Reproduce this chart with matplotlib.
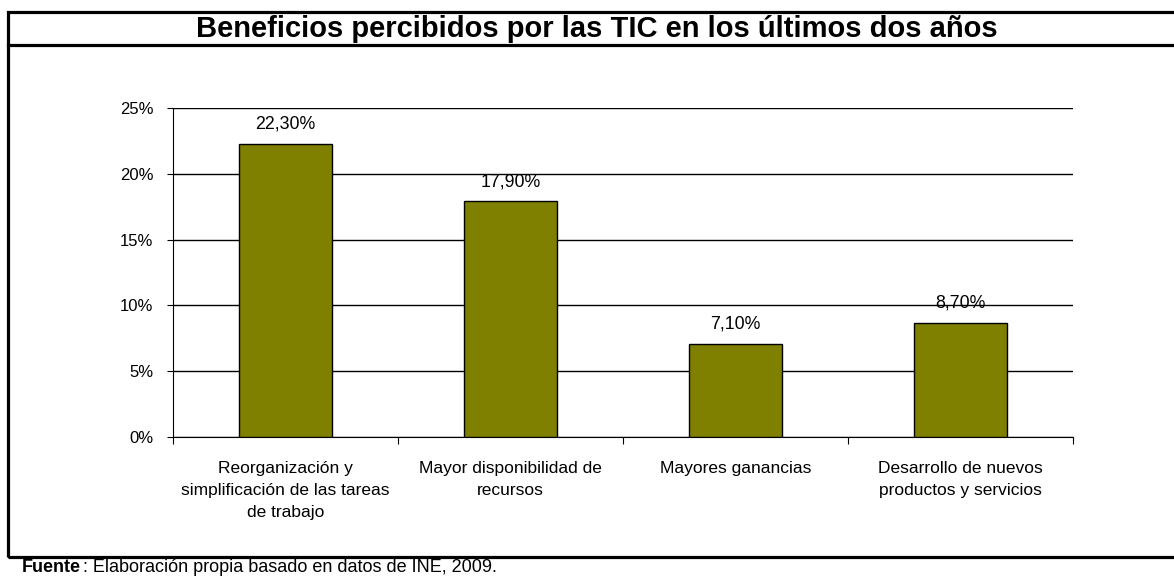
import numpy as np
import matplotlib.pyplot as plt
from matplotlib.patches import Rectangle
from matplotlib.lines import Line2D

plt.rcParams['font.family'] = ['Liberation Sans', 'DejaVu Sans']

# Datos
categorias = ['Reorganización y\nsimplificación de las tareas\nde trabajo',
              'Mayor disponibilidad de\nrecursos',
              'Mayores ganancias',
              'Desarrollo de nuevos\nproductos y servicios']
valores = [22.3, 17.9, 7.1, 8.7]
etiquetas = ['22,30%', '17,90%', '7,10%', '8,70%']
yticks = [0, 5, 10, 15, 20, 25]

W, H = 1174, 576
fig = plt.figure(figsize=(W / 100, H / 100), dpi=100)

# coordenadas en píxeles -> fracción de la figura
def fx(x):
    return x / W

def fy(y):
    return 1 - y / H

# marco exterior y banda del título
fig.patches.append(Rectangle((fx(8), fy(557)), fx(1180) - fx(8), fy(12) - fy(557),
                             transform=fig.transFigure, fill=False, lw=2.3, ec='black'))
fig.lines.append(Line2D([fx(8), 1.01], [fy(45), fy(45)], transform=fig.transFigure,
                        lw=2.3, color='black'))
fig.text(fx(597), fy(29), 'Beneficios percibidos por las TIC en los últimos dos años',
         ha='center', va='center', fontsize=21, fontweight='bold')

ax = fig.add_axes([fx(173), fy(437), fx(1073) - fx(173), fy(108) - fy(437)])
x = np.arange(len(categorias))
ax.bar(x, valores, width=0.41, color='#808000', edgecolor='black', linewidth=1, zorder=3)
for xi, v, t in zip(x, valores, etiquetas):
    ax.text(xi, v + 0.85, t, ha='center', va='bottom', fontsize=12.8)

ax.set_xlim(-0.5, len(categorias) - 0.5)
ax.set_ylim(0, 25)
ax.set_yticks(yticks)
ax.set_yticklabels([f'{t}%' for t in yticks], fontsize=12)
ax.yaxis.grid(True, color='black', lw=1, zorder=0)
ax.set_xticks(np.arange(-0.5, len(categorias)))
ax.set_xticklabels([])
ax.set_xticks(x, minor=True)
ax.set_xticklabels(categorias, minor=True, fontsize=12.5, linespacing=1.62)
ax.tick_params(axis='x', which='minor', length=0, pad=17)
ax.tick_params(axis='x', which='major', length=5, direction='out')
ax.tick_params(axis='y', length=4, direction='out', pad=10)
for s in ['top', 'right']:
    ax.spines[s].set_visible(False)

fig.text(fx(22), fy(567), 'Fuente', fontsize=13, va='center', ha='left', fontweight='bold')
fig.text(fx(83), fy(567), ': Elaboración propia basado en datos de INE, 2009.',
         fontsize=13, va='center', ha='left')

fig.savefig('out.png', dpi=100)
